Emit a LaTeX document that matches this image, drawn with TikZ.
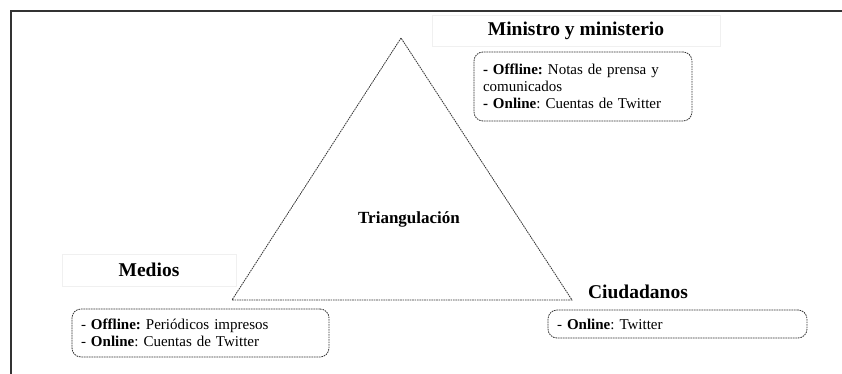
\documentclass[tikz,border=0pt]{standalone}
\usepackage{fontspec}
\setmainfont{Liberation Serif}
\usetikzlibrary{calc}

\tikzset{
  headbox/.style={draw=gray!12, minimum height=31pt, font=\fontsize{19.5}{22}\selectfont\bfseries},
  listbox/.style={draw=black!80, dash pattern=on 1.6pt off 0.9pt, line width=0.8pt, rounded corners=9pt,
    inner xsep=9pt, align=left, font=\fontsize{15}{17}\selectfont\frenchspacing},
  edge/.style={draw=black!80, dash pattern=on 1.6pt off 0.8pt, line width=0.8pt}
}

\begin{document}
\begin{tikzpicture}[x=1pt,y=-1pt]
    \useasboundingbox (0,0) rectangle (842,374);
    \draw [line width=1.3pt, black!80] (11,374) -- (11,11) -- (842,11);
    % triangle corners
    \coordinate (top) at (401,38);
    \coordinate (left) at (232,300);
    \coordinate (right) at (572,300);
    \draw [edge] (top) -- (left) -- (right) -- cycle;
    \node [font=\fontsize{17}{20}\selectfont\bfseries] (tri) at (409,219) {Triangulación};
    % ministro
    \node [headbox, minimum width=288pt] (minhead) at (576,31) {Ministro y ministerio};
    \node [listbox, minimum width=218pt, minimum height=69pt, text width=200pt] (minlist) at (583,86.5)
    {\textbf{- Offline:} Notas de prensa y\\ comunicados\\ \textbf{- Online}: Cuentas de Twitter};
    % medios
    \node [headbox, minimum width=174pt, minimum height=32pt] (medhead) at (149,270) {Medios};
    \node [listbox, minimum width=257pt, minimum height=48pt, text width=239pt] (medlist) at (200.5,333)
    {- \textbf{Offline:} Periódicos impresos\\ - \textbf{Online}: Cuentas de Twitter};
    % ciudadanos
    \node [font=\fontsize{19.5}{22}\selectfont\bfseries] (ciuhead) at (638,292) {Ciudadanos};
    \node [listbox, minimum width=259pt, minimum height=28pt, text width=241pt] (ciulist) at (677.5,324)
    {- \textbf{Online}: Twitter};
  \end{tikzpicture}
\end{document}
